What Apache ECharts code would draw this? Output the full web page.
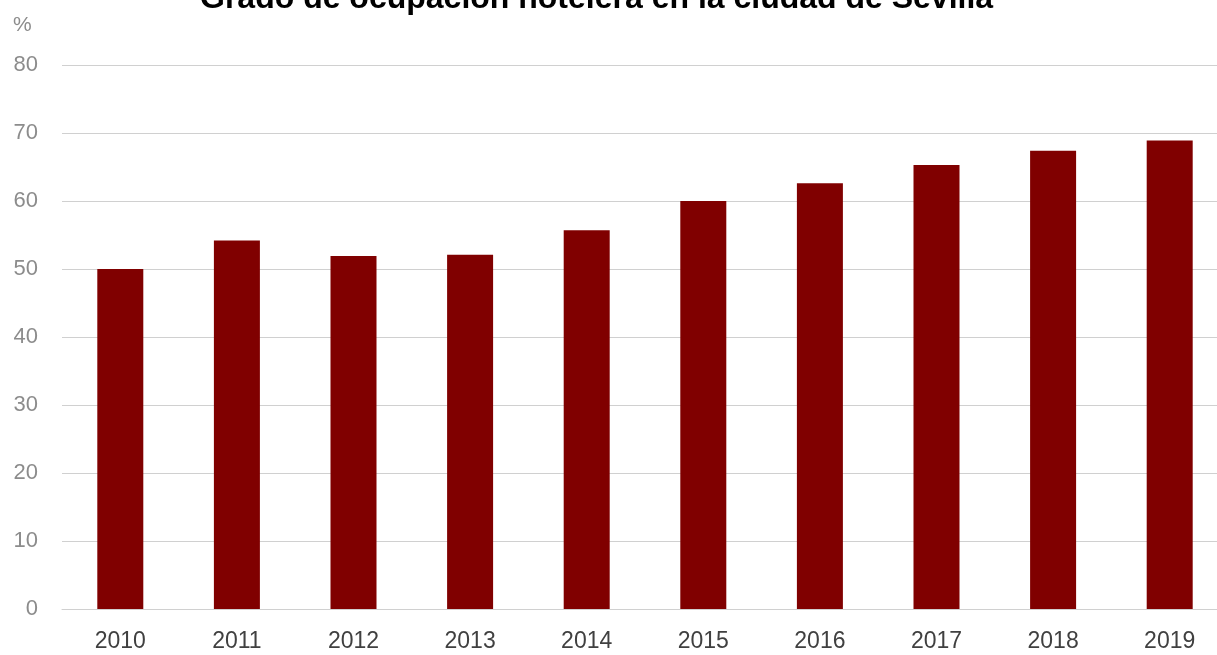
<!DOCTYPE html>
<html>
<head>
<meta charset="utf-8">
<script src="https://cdn.jsdelivr.net/npm/echarts@6/dist/echarts.min.js"></script>
<style>
  html, body { margin: 0; padding: 0; background: #fff; }
  #chart { width: 1217px; height: 655px; }
</style>
</head>
<body>
<div id="chart"></div>
<script>
// Hotel occupancy rate in Seville, 2010–2019 (%)
const years = ['2010', '2011', '2012', '2013', '2014', '2015', '2016', '2017', '2018', '2019'];
const occupancy = [50.0, 54.2, 51.9, 52.1, 55.7, 60.0, 62.6, 65.3, 67.4, 68.9];
const yTicks = [0, 10, 20, 30, 40, 50, 60, 70, 80];

const titleText = 'Grado de ocupación hotelera en la ciudad de Sevilla';
const unitText = '%';

const chart = echarts.init(document.getElementById('chart'), null, { renderer: 'canvas' });

chart.setOption({
  animation: false,
  backgroundColor: '#ffffff',
  title: {
    text: titleText,
    left: 200,
    top: -17,
    padding: 0,
    textStyle: {
      fontFamily: 'Liberation Sans',
      fontWeight: 'bold',
      fontSize: 32,
      color: '#000000'
    }
  },
  graphic: [{
    type: 'text',
    left: 13,
    top: 15,
    style: {
      text: unitText,
      font: '21px "Liberation Sans"',
      fill: '#8c8c8c'
    }
  }],
  grid: {
    left: 62,
    width: 1166,
    top: 65,
    bottom: 46,
    outerBoundsMode: 'none',
    containLabel: false
  },
  xAxis: {
    type: 'category',
    data: years,
    axisLine: { show: true, lineStyle: { color: '#d0d0d0', width: 1 } },
    axisTick: { show: false },
    axisLabel: {
      fontFamily: 'Liberation Sans',
      fontSize: 23,
      color: '#404040',
      margin: 21
    }
  },
  yAxis: {
    type: 'value',
    min: yTicks[0],
    max: yTicks[yTicks.length - 1],
    interval: 10,
    axisLine: { show: false },
    axisTick: { show: false },
    splitLine: { show: true, lineStyle: { color: '#d0d0d0', width: 1 } },
    axisLabel: {
      fontFamily: 'Liberation Sans',
      fontSize: 22,
      color: '#8c8c8c',
      margin: 24
    }
  },
  series: [{
    type: 'bar',
    data: occupancy,
    barWidth: 46,
    itemStyle: { color: '#800000' }
  }]
});
</script>
</body>
</html>
